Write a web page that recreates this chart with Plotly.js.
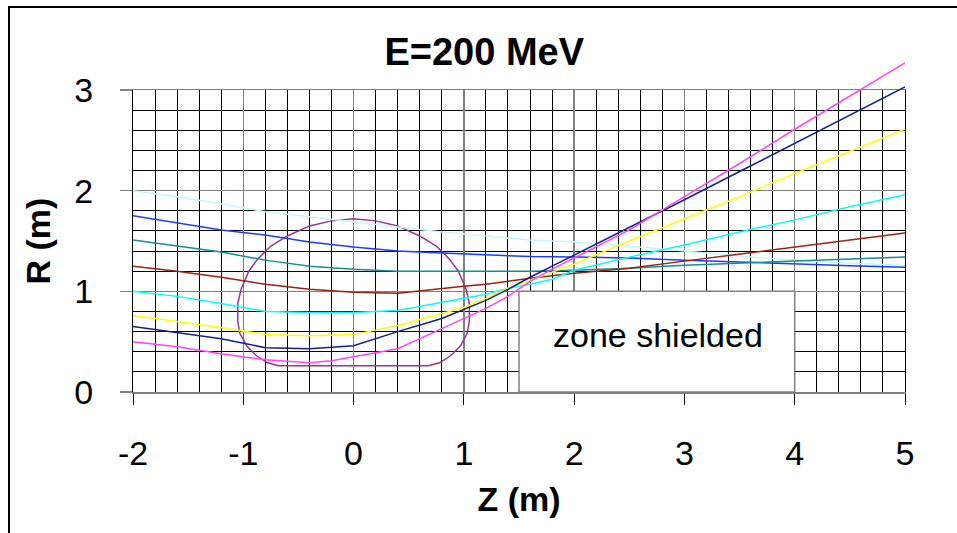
<!DOCTYPE html>
<html>
<head>
<meta charset="utf-8">
<script src="https://cdn.plot.ly/plotly-3.0.1.min.js"></script>
<style>
  html, body { margin: 0; padding: 0; background: #fff; overflow: hidden; }
  #chart { width: 957px; height: 533px; }
</style>
</head>
<body>
<div id="chart"></div>
<script>
// ---- Data (Z in m, R in m) ----
const zLightTurq = [-2, -1.6, -1.2, -0.8, -0.4, 0, 0.4, 0.8, 1.2, 1.6, 2.0, 2.5, 3.0, 3.5, 4.0, 4.5, 5];
const rLightTurq = [2.0, 1.94, 1.87, 1.79, 1.74, 1.69, 1.64, 1.59, 1.55, 1.51, 1.49, 1.45, 1.40, 1.35, 1.31, 1.28, 1.26];

const zBlue = [-2, -1.6, -1.2, -0.8, -0.4, 0, 0.4, 0.8, 1.2, 1.6, 2.0, 2.5, 3.0, 3.5, 4.0, 4.5, 5];
const rBlue = [1.75, 1.68, 1.61, 1.56, 1.49, 1.44, 1.40, 1.38, 1.36, 1.345, 1.34, 1.33, 1.31, 1.29, 1.27, 1.255, 1.24];

const zTeal = [-2, -1.6, -1.2, -0.8, -0.4, 0, 0.4, 0.8, 1.2, 1.6, 2.0, 2.5, 3.0, 3.5, 4.0, 4.5, 5];
const rTeal = [1.51, 1.45, 1.39, 1.31, 1.25, 1.22, 1.20, 1.20, 1.20, 1.20, 1.21, 1.23, 1.26, 1.28, 1.30, 1.32, 1.34];

const zDarkRed = [-2, -1.6, -1.2, -0.8, -0.4, 0, 0.4, 0.8, 1.0, 1.2, 1.4, 1.6, 2.0, 2.5, 3.0, 3.5, 4.0, 4.5, 5];
const rDarkRed = [1.25, 1.20, 1.14, 1.07, 1.02, 0.99, 0.98, 1.03, 1.05, 1.07, 1.10, 1.13, 1.18, 1.23, 1.30, 1.37, 1.44, 1.51, 1.58];

const zCyan = [-2, -1.6, -1.2, -0.8, -0.4, 0, 0.4, 0.8, 1.0, 1.2, 1.4, 1.6, 1.8, 2.0, 2.5, 3.0, 3.5, 4.0, 4.5, 5];
const rCyan = [1.0, 0.95, 0.88, 0.80, 0.79, 0.79, 0.81, 0.89, 0.93, 0.97, 1.03, 1.07, 1.12, 1.21, 1.34, 1.46, 1.59, 1.71, 1.84, 1.96];

const zYellow = [-2, -1.6, -1.2, -0.8, -0.4, 0, 0.4, 0.8, 1.0, 1.2, 1.4, 1.6, 1.8, 2.0, 2.5, 3.0, 3.5, 4.0, 4.5, 5];
const rYellow = [0.76, 0.70, 0.64, 0.57, 0.56, 0.57, 0.66, 0.78, 0.84, 0.93, 1.03, 1.11, 1.19, 1.27, 1.50, 1.72, 1.94, 2.17, 2.39, 2.61];

const zNavy = [-2, -1.6, -1.2, -0.8, -0.4, 0, 0.4, 0.8, 1.0, 1.2, 1.4, 1.6, 1.8, 2.0, 2.5, 3.0, 3.5, 4.0, 4.5, 5];
const rNavy = [0.65, 0.59, 0.53, 0.44, 0.43, 0.46, 0.60, 0.73, 0.82, 0.91, 1.02, 1.14, 1.25, 1.36, 1.63, 1.91, 2.19, 2.47, 2.75, 3.03];

const zMagenta = [-2, -1.6, -1.2, -0.8, -0.4, -0.2, 0, 0.4, 0.8, 1.0, 1.2, 1.4, 1.6, 1.8, 2.0, 2.5, 3.0, 3.5, 4.0, 4.5, 5];
const rMagenta = [0.50, 0.45, 0.38, 0.32, 0.29, 0.31, 0.35, 0.43, 0.63, 0.73, 0.83, 0.95, 1.10, 1.22, 1.33, 1.61, 1.94, 2.27, 2.61, 2.94, 3.27];

const zOutline = [0, 0.2, 0.4, 0.6, 0.75, 0.87, 0.95, 1.02, 1.05, 1.05, 1.03, 0.97, 0.88, 0.78, 0.68, -0.68, -0.78, -0.88, -0.97, -1.03, -1.05, -1.05, -1.02, -0.95, -0.87, -0.75, -0.6, -0.4, -0.2, 0];
const rOutline = [1.72, 1.70, 1.65, 1.55, 1.45, 1.32, 1.20, 1.02, 0.88, 0.70, 0.58, 0.46, 0.36, 0.29, 0.26, 0.26, 0.29, 0.36, 0.46, 0.58, 0.70, 0.88, 1.02, 1.20, 1.32, 1.45, 1.55, 1.65, 1.70, 1.72];

const xTickVals = [-2, -1, 0, 1, 2, 3, 4, 5];
const xTickText = ['-2', '-1', '0', '1', '2', '3', '4', '5'];
const yTickVals = [0, 1, 2, 3];
const yTickText = ['0', '1', '2', '3'];
const titleText = 'E=200 MeV';
const xTitle = 'Z (m)';
const yTitle = 'R (m)';
const zoneLabel = 'zone shielded';
const zoneZ = [1.5, 4];
const zoneR = [0, 1];

const FONT = 'Liberation Sans, Arial, Helvetica, sans-serif';

// Geometry: plot area 302 px tall for R 0..3; traces drawn on an overlapping
// subplot that extends higher so lines can run past the top of the grid.
const W = 957, H = 533, ML = 133, MR = 52, MT = 55, MB = 141;
const plotH = H - MT - MB;            // 337
const gridFrac = 302 / plotH;         // main axes domain fraction
const yMax2 = 3 / gridFrac;           // same pixel scale on the extended axis

function tr(x, y, color) {
  return { x: x, y: y, xaxis: 'x2', yaxis: 'y2', type: 'scatter', mode: 'lines',
           line: { color: color, width: 1.5 }, hoverinfo: 'skip', showlegend: false };
}

const data = [
  tr(zOutline, rOutline, '#993399'),
  tr(zLightTurq, rLightTurq, '#C4F8F8'),
  tr(zBlue, rBlue, '#1a3cff'),
  tr(zTeal, rTeal, '#109090'),
  tr(zDarkRed, rDarkRed, '#992211'),
  tr(zCyan, rCyan, '#00FFFF'),
  tr(zYellow, rYellow, '#FFFF00'),
  tr(zNavy, rNavy, '#102090'),
  tr(zMagenta, rMagenta, '#FF44FF'),
  // invisible trace keeping the main subplot alive
  { x: [-2], y: [0], xaxis: 'x', yaxis: 'y', type: 'scatter', mode: 'none', hoverinfo: 'skip', showlegend: false }
];

const layout = {
  width: W, height: H,
  margin: { l: ML, r: MR, t: MT, b: MB },
  paper_bgcolor: '#fff', plot_bgcolor: 'rgba(0,0,0,0)',
  font: { family: FONT, color: '#000' },
  title: { text: '<b>' + titleText + '</b>', font: { family: FONT, size: 38, color: '#000' },
           xref: 'container', x: 0.506, xanchor: 'center', yref: 'container', y: 0.903, yanchor: 'middle' },
  xaxis: {
    domain: [0, 1], anchor: 'y',
    range: [-2, 5], tickvals: xTickVals, ticktext: xTickText, ticks: 'outside', ticklen: 11, tickcolor: '#000', tickwidth: 1,
    showgrid: true, gridcolor: '#808080', gridwidth: 1.5,
    minor: { dtick: 0.2, tick0: -2, showgrid: true, gridcolor: '#000', gridwidth: 1, ticks: '' },
    showline: true, linecolor: '#808080', linewidth: 1.5, mirror: true, zeroline: false,
    tickfont: { family: FONT, size: 34 }, ticklabelstandoff: 20,
    title: { text: '<b>' + xTitle + '</b>', font: { family: FONT, size: 34 }, standoff: 16 },
    fixedrange: true
  },
  yaxis: {
    domain: [0, gridFrac], anchor: 'x',
    range: [0, 3], tickvals: yTickVals, ticktext: yTickText, ticks: 'outside', ticklen: 12, tickcolor: '#808080', tickwidth: 1.5,
    showgrid: true, gridcolor: '#808080', gridwidth: 1.5,
    minor: { dtick: 0.2, tick0: 0, showgrid: true, gridcolor: '#000', gridwidth: 1, ticks: '' },
    showline: true, linecolor: '#000', linewidth: 1, mirror: true, zeroline: false,
    tickfont: { family: FONT, size: 34 }, ticklabelstandoff: 20,
    title: { text: '<b>' + yTitle + '</b>', font: { family: FONT, size: 34 }, standoff: 13 },
    fixedrange: true
  },
  xaxis2: { domain: [0, 1], anchor: 'y2', range: [-2, 5], visible: false, fixedrange: true },
  yaxis2: { domain: [0, 1], anchor: 'x2', range: [0, yMax2], visible: false, fixedrange: true },
  shapes: [
    { type: 'rect', xref: 'x', yref: 'y', x0: zoneZ[0], x1: zoneZ[1], y0: zoneR[0], y1: zoneR[1],
      fillcolor: '#fff', line: { color: '#808080', width: 1.5 }, layer: 'above' },
    { type: 'rect', xref: 'paper', yref: 'paper', x0: -0.1606, x1: 1.1, y0: -0.6, y1: (H - MB - 7) / plotH,
      fillcolor: 'rgba(0,0,0,0)', line: { color: '#000', width: 2 }, layer: 'above' }
  ],
  annotations: [
    { x: (zoneZ[0] + zoneZ[1]) / 2 + 0.01, y: 0.57, xref: 'x', yref: 'y', text: zoneLabel, showarrow: false,
      font: { family: FONT, size: 34, color: '#000' }, xanchor: 'center', yanchor: 'middle' }
  ]
};

Plotly.newPlot('chart', data, layout, { staticPlot: true, displayModeBar: false });
</script>
</body>
</html>
